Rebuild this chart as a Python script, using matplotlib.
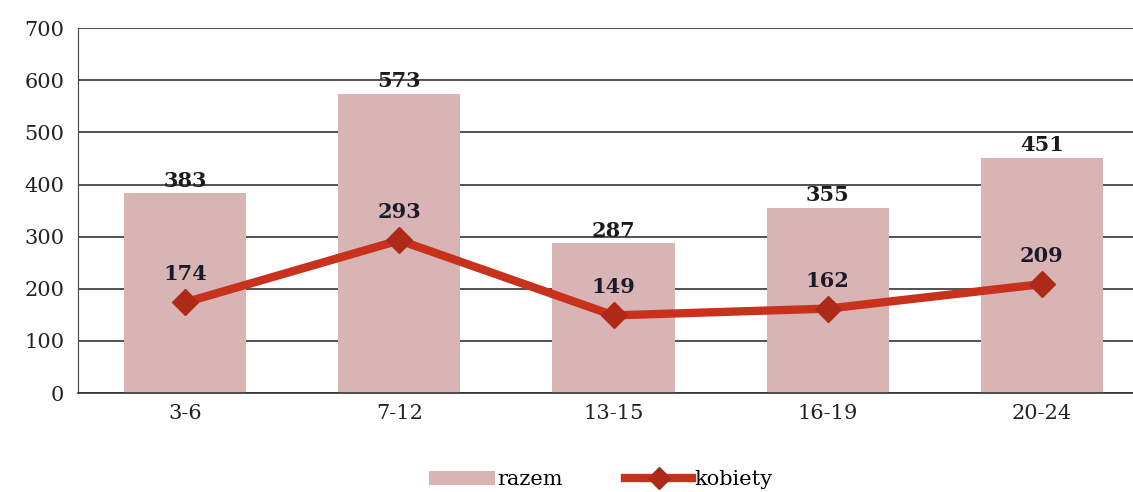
import matplotlib
matplotlib.use("Agg")
import matplotlib.pyplot as plt
from matplotlib.lines import Line2D
from matplotlib.patches import Patch

# dane z wykresu
kategorie = ["3-6", "7-12", "13-15", "16-19", "20-24"]
razem = [383, 573, 287, 355, 451]
kobiety = [174, 293, 149, 162, 209]

kolor_slupka = "#d9b4b4"
kolor_linii = "#c8321c"
kolor_znacznika = "#ad2a18"

plt.rcParams["font.family"] = ["DejaVu Serif"]

fig = plt.figure(figsize=(11.33, 4.92), dpi=100)
ax = fig.add_axes([0.069, 0.201, 0.945, 0.742])

x = list(range(len(kategorie)))
ax.bar(x, razem, width=0.57, color=kolor_slupka, zorder=2)
ax.plot(x, kobiety, color=kolor_linii, linewidth=6, marker="D", markersize=13,
        markerfacecolor=kolor_znacznika, markeredgecolor=kolor_znacznika, zorder=3)

for xi, v in zip(x, razem):
    ax.annotate(str(v), (xi, v), xytext=(0, 2), textcoords="offset points",
                ha="center", va="bottom", fontsize=15, fontweight="bold", color="#1a1a1a")
for xi, v in zip(x, kobiety):
    ax.annotate(str(v), (xi, v), xytext=(0, 13), textcoords="offset points",
                ha="center", va="bottom", fontsize=15, fontweight="bold", color="#1a1a2a")

ax.set_ylim(0, 700)
ax.set_xlim(-0.5, 4.5)
ax.set_yticks(range(0, 701, 100))
ax.set_xticks(x)
ax.set_xticklabels(kategorie)
ax.tick_params(axis="both", length=0, labelsize=15, colors="#222222")
ax.tick_params(axis="y", pad=10)
ax.tick_params(axis="x", pad=8)
ax.yaxis.grid(True, color="#333333", linewidth=1.2, zorder=1)
ax.set_axisbelow(True)
for s in ["top", "right"]:
    ax.spines[s].set_visible(False)
ax.spines["left"].set_color("#444444")
ax.spines["bottom"].set_color("#333333")
ax.spines["bottom"].set_linewidth(1.2)

uchwyty = [
    Patch(facecolor=kolor_slupka, edgecolor="none"),
    Line2D([0], [0], color=kolor_linii, linewidth=6, marker="D", markersize=11,
           markerfacecolor=kolor_znacznika, markeredgecolor=kolor_znacznika),
]
fig.legend(uchwyty, ["razem", "kobiety"], loc="center", bbox_to_anchor=(0.53, 0.025),
           ncol=2, frameon=False, fontsize=15, handlelength=3.2, handletextpad=0.1,
           columnspacing=3)

fig.savefig("out.png", dpi=100)
